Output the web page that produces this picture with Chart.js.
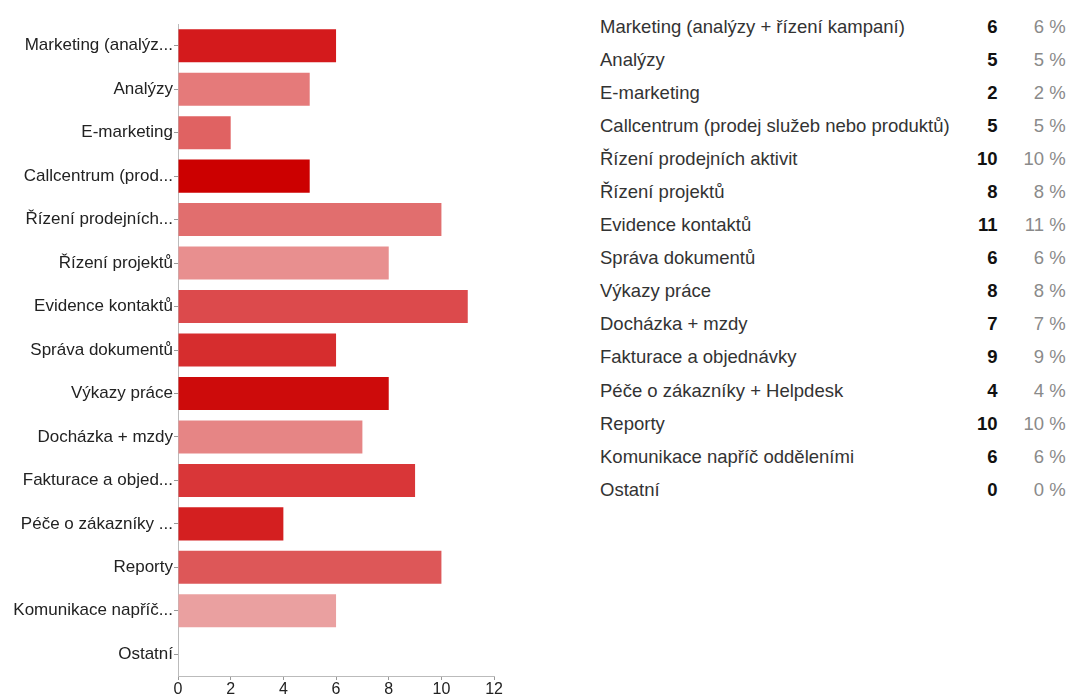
<!DOCTYPE html>
<html>
<head>
<meta charset="utf-8">
<script src="https://cdn.jsdelivr.net/npm/chart.js@4.4.0/dist/chart.umd.min.js"></script>
<style>
  body { margin: 0; background: #fff; font-family: "Liberation Sans", Arial, sans-serif; }
  #wrap { position: absolute; left: 0; top: 0; width: 503px; height: 697px; }
  #tabulka { position: absolute; left: 600px; top: 10px; border-collapse: collapse; font-size: 18.5px; color: #333; }
  #tabulka td { height: 33.1px; padding: 0; white-space: nowrap; }
  #tabulka td.n { text-align: right; font-weight: bold; color: #111; width: 48px; }
  #tabulka td.p { text-align: right; color: #8a8a8a; width: 68px; }
</style>
</head>
<body>
<div id="wrap"><canvas id="graf"></canvas></div>
<table id="tabulka"></table>
<script>
var kategorie = ['Marketing (analýzy + řízení kampaní)', 'Analýzy', 'E-marketing', 'Callcentrum (prodej služeb nebo produktů)',
    'Řízení prodejních aktivit', 'Řízení projektů', 'Evidence kontaktů', 'Správa dokumentů', 'Výkazy práce',
    'Docházka + mzdy', 'Fakturace a objednávky', 'Péče o zákazníky + Helpdesk', 'Reporty',
    'Komunikace napříč odděleními', 'Ostatní'];
var kratke = ['Marketing (analýz...', 'Analýzy', 'E-marketing', 'Callcentrum (prod...', 'Řízení prodejních...',
    'Řízení projektů', 'Evidence kontaktů', 'Správa dokumentů', 'Výkazy práce', 'Docházka + mzdy',
    'Fakturace a objed...', 'Péče o zákazníky ...', 'Reporty', 'Komunikace napříč...', 'Ostatní'];
var pocty = [6, 5, 2, 5, 10, 8, 11, 6, 8, 7, 9, 4, 10, 6, 0];
var procenta = [6, 5, 2, 5, 10, 8, 11, 6, 8, 7, 9, 4, 10, 6, 0];
var barvy = ['#d41a1c', '#e57a7a', '#e06262', '#cc0000', '#e16e6e', '#e88f8f', '#dc4a4c', '#d62d2e',
    '#cd0b0b', '#e68585', '#d93638', '#d41f20', '#dd5758', '#eaa0a0', '#eaa0a0'];
var osaX = [0, 2, 4, 6, 8, 10, 12];

document.addEventListener('DOMContentLoaded', function () {
    var tab = document.getElementById('tabulka');
    for (var i = 0; i < kategorie.length; i++) {
        var tr = document.createElement('tr');
        tr.innerHTML = '<td>' + kategorie[i] + '</td><td class="n">' + pocty[i] + '</td><td class="p">' + procenta[i] + ' %</td>';
        tab.appendChild(tr);
    }

    var ctx = document.getElementById('graf').getContext('2d');
    new Chart(ctx, {
        type: 'bar',
        data: {
            labels: kratke,
            datasets: [{
                data: pocty,
                backgroundColor: barvy,
                borderWidth: 0,
                categoryPercentage: 0.76,
                barPercentage: 1
            }]
        },
        options: {
            indexAxis: 'y',
            responsive: true,
            maintainAspectRatio: false,
            animation: false,
            layout: { padding: { top: 24, right: 0, left: 0, bottom: 0 } },
            plugins: { legend: { display: false }, tooltip: { enabled: false } },
            scales: {
                x: {
                    min: 0,
                    max: 12,
                    afterBuildTicks: function (s) { s.ticks = osaX.map(function (v) { return { value: v }; }); },
                    afterFit: function (s) { s.height = 21; },
                    grid: { drawOnChartArea: false, color: '#999', tickLength: 4 },
                    border: { color: '#bbb' },
                    ticks: { color: '#222', font: { family: 'Liberation Sans', size: 16 }, padding: 0 }
                },
                y: {
                    afterFit: function (s) { s.width = 178; },
                    grid: { drawOnChartArea: false, offset: false, color: '#999', tickLength: 4 },
                    border: { color: '#bbb' },
                    ticks: { color: '#222', font: { family: 'Liberation Sans', size: 17 }, padding: 1 }
                }
            }
        }
    });
});
</script>
</body>
</html>
